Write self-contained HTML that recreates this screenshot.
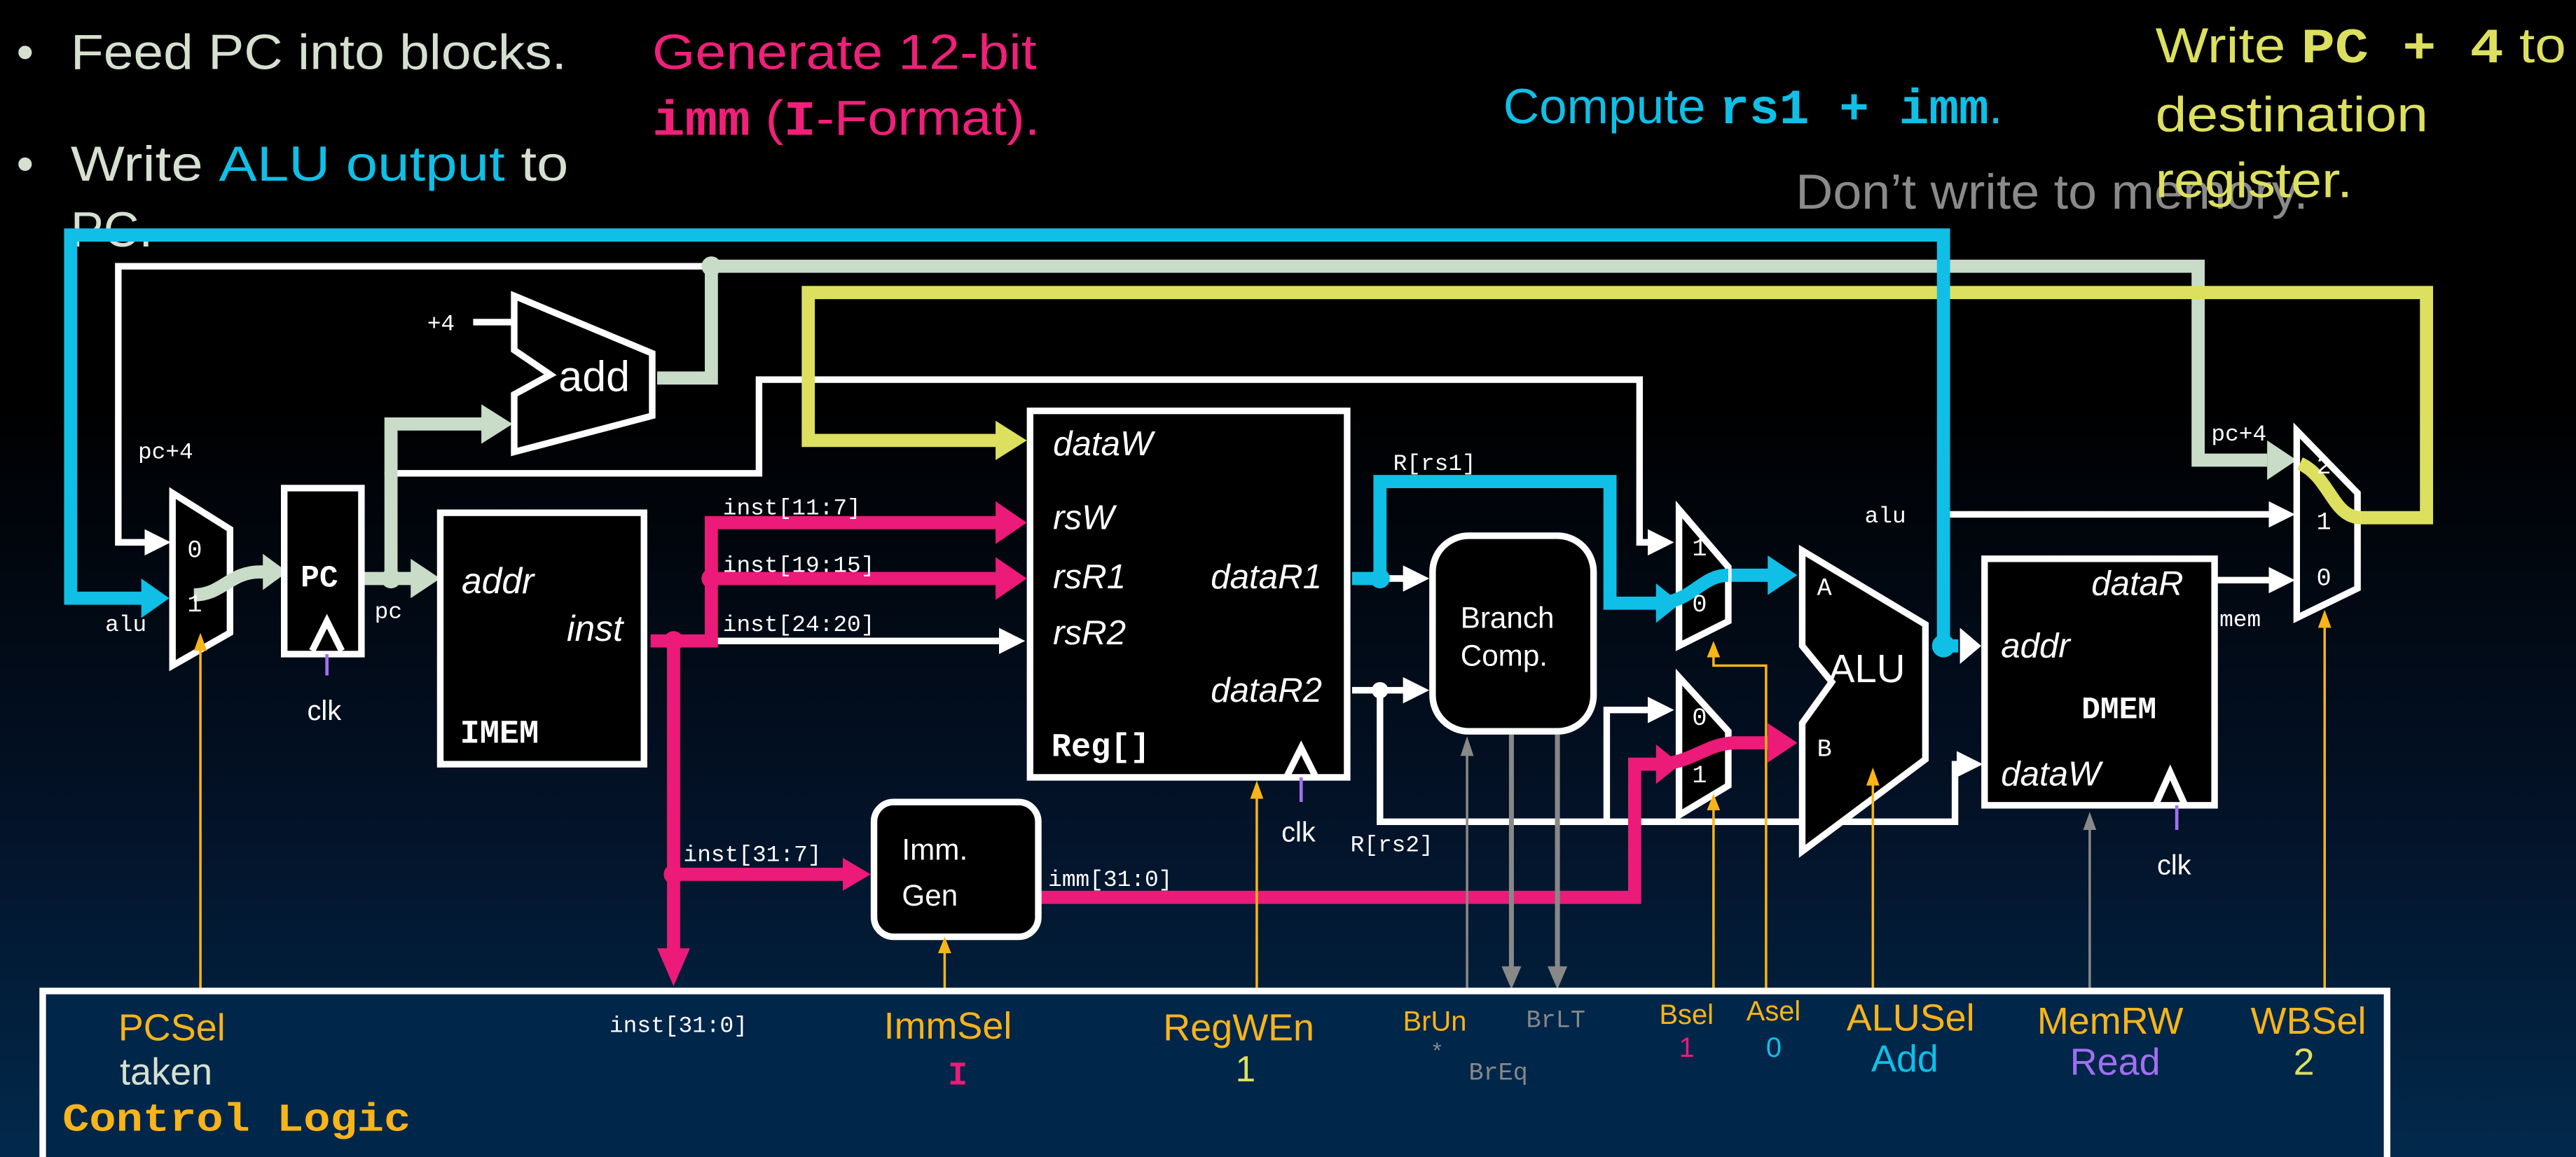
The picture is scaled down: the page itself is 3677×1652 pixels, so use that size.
<!DOCTYPE html>
<html><head><meta charset="utf-8"><style>
html,body{margin:0;padding:0;background:#000;}
svg{display:block}
.s{font-family:"Liberation Sans","DejaVu Sans",sans-serif}
.m{font-family:"Liberation Mono","DejaVu Sans Mono",monospace}
</style></head><body>
<svg width="3677" height="1652" viewBox="0 0 1568 704" preserveAspectRatio="none" xmlns="http://www.w3.org/2000/svg">
<defs>
<linearGradient id="bg" x1="0" y1="0" x2="0" y2="1">
<stop offset="0" stop-color="#000"/><stop offset="0.35" stop-color="#000"/>
<stop offset="0.7" stop-color="#031227"/><stop offset="1" stop-color="#02294c"/></linearGradient>
<marker id="aw" markerWidth="4" markerHeight="4" refX="3" refY="2" orient="auto" markerUnits="strokeWidth"><path d="M0,0L4,2L0,4z" fill="#fff"/></marker>
</defs>
<rect width="1568" height="704" fill="url(#bg)"/>

<!-- top text -->
<g class="s" font-size="30">
<text x="10" y="42" fill="#d6e0d0">•</text><text x="43" y="42" fill="#d6e0d0" textLength="302" lengthAdjust="spacingAndGlyphs">Feed PC into blocks.</text>
<text x="10" y="110" fill="#d6e0d0">•</text><text x="43" y="110" fill="#d6e0d0" textLength="303" lengthAdjust="spacingAndGlyphs">Write <tspan fill="#10bfe6">ALU output</tspan> to</text>
<text x="43" y="150" fill="#d6e0d0">PC.</text>
<text x="397" y="42" fill="#f0207a" textLength="234" lengthAdjust="spacingAndGlyphs">Generate 12-bit</text>
<text x="397" y="82" fill="#f0207a" textLength="236" lengthAdjust="spacingAndGlyphs"><tspan class="m" font-weight="bold">imm</tspan> (<tspan class="m" font-weight="bold">I</tspan>-Format).</text>
<text x="915" y="75" fill="#10bfe6" textLength="304" lengthAdjust="spacingAndGlyphs">Compute <tspan class="m" font-weight="bold">rs1 + imm</tspan>.</text>
<text x="1093" y="127" fill="#8a8a8a" textLength="312" lengthAdjust="spacingAndGlyphs">Don’t write to memory.</text>
<text x="1312" y="38" fill="#dde05e" textLength="250" lengthAdjust="spacingAndGlyphs">Write <tspan class="m" font-weight="bold">PC + 4</tspan> to</text>
<text x="1312" y="80" fill="#dde05e" textLength="166" lengthAdjust="spacingAndGlyphs">destination</text>
<text x="1312" y="120" fill="#dde05e" textLength="120" lengthAdjust="spacingAndGlyphs">register.</text>
</g>

<!-- thin white wires -->
<g stroke="#fff" stroke-width="4" fill="none">
<path d="M433,162H72V330H100" marker-end="url(#aw)"/>
<path d="M238,288H462V231H998V330H1015" marker-end="url(#aw)"/>
<path d="M288,196H313"/>
<path d="M433,390H620" marker-end="url(#aw)"/>
<path d="M823,420H866" marker-end="url(#aw)"/>
<path d="M840,420V500H1190V465H1203" marker-end="url(#aw)"/>
<path d="M978,500V432H1015" marker-end="url(#aw)"/>
<path d="M1183,313H1393" marker-end="url(#aw)"/>
<path d="M1348,353H1393" marker-end="url(#aw)"/>
<path d="M823,352H866" marker-end="url(#aw)"/>
</g>
<circle cx="840" cy="420" r="5" fill="#fff"/>

<!-- light green thick -->
<g stroke="#c8dcc8" stroke-width="8" fill="none">
<path d="M400,230H433V162H1338V280H1380"/>
<path d="M238,352V258H295"/>
<path d="M220,352H252"/>
</g>
<g fill="#c8dcc8">
<path d="M293,246L312,258L293,270z"/><path d="M250,340L268,352L250,364z"/>
<path d="M160,337L175,348L160,359z"/><path d="M1380,268L1398,280L1380,292z"/>
<circle cx="433" cy="162" r="6"/><circle cx="238" cy="352" r="6"/><circle cx="238" cy="288" r="4"/>
</g>

<!-- yellow -->
<g stroke="#dde05e" stroke-width="8" fill="none">
<path d="M1433,315H1477V178H492V268H607"/>
</g>
<path d="M606,256L625,268L606,280z" fill="#dde05e"/>

<!-- cyan -->
<g stroke="#10bfe6" stroke-width="8" fill="none">
<path d="M1183,393V143H43V364H88"/>
<path d="M840,352V293H980V367H1010"/>
<path d="M1050,350H1078"/>
<path d="M823,352H840"/>
<path d="M1183,393H1192"/>
</g>
<g fill="#10bfe6">
<path d="M86,352L103,364L86,376z"/><path d="M1008,355L1023,367L1008,379z"/>
<path d="M1076,338L1094,350L1076,362z"/>
<circle cx="840" cy="352" r="6"/><circle cx="1183" cy="393" r="7"/>
</g>
<path d="M1193,382L1206,393L1193,404z" fill="#fff"/>

<!-- magenta -->
<g stroke="#ec1a78" stroke-width="8" fill="none">
<path d="M396,390H433V318H607"/>
<path d="M433,352H607"/>
<path d="M410,390V580"/>
<path d="M410,532H515"/>
<path d="M632,546H995V465H1010"/>
<path d="M1055,452H1078"/>
</g>
<g fill="#ec1a78">
<path d="M606,305L625,318L606,331z"/><path d="M606,339L625,352L606,365z"/>
<path d="M513,522L530,532L513,542z"/><path d="M400,577L410,600L420,577z"/>
<path d="M1076,440L1094,452L1076,464z"/><path d="M1008,453L1023,465L1008,477z"/>
<circle cx="433" cy="352" r="6"/><circle cx="410" cy="390" r="6"/><circle cx="410" cy="532" r="6"/>
</g>

<!-- blocks -->
<g stroke="#fff" stroke-width="4" fill="none">
<path d="M105,300L140,322V385L105,405Z" fill="#000"/>
<rect x="173" y="297" width="47" height="101" fill="#000"/>
<path d="M190,396L199,378L208,396"/>
<path d="M313,180L397,215V253L313,275V240L335,228L313,213Z" fill="#000"/>
<rect x="268" y="312" width="124" height="153" fill="#000"/>
<rect x="627" y="250" width="193" height="223" fill="#000"/>
<path d="M783,473L792,455L801,473"/>
<rect x="872" y="326" width="98" height="119" rx="22" fill="#000"/>
<rect x="532" y="488" width="100" height="82" rx="12" fill="#000"/>
<path d="M1022,310L1052,345V378L1022,393Z" fill="#000"/>
<path d="M1022,412L1052,445V478L1022,496Z" fill="#000"/>
<path d="M1097,335L1172,380V462L1097,518V440L1115,415L1097,393Z" fill="#000"/>
<rect x="1208" y="340" width="140" height="150" fill="#000"/>
<path d="M1312,490L1321,470L1330,490"/>
<path d="M1398,262L1435,300V358L1398,376Z" fill="none"/>
</g>

<!-- paths through muxes (on top) -->
<path d="M118,362C135,362 140,348 158,348H165" stroke="#c8dcc8" stroke-width="8" fill="none"/>
<path d="M1008,367C1030,367 1035,350 1052,350" stroke="#10bfe6" stroke-width="8" fill="none"/>
<path d="M1008,465C1030,465 1038,452 1057,452" stroke="#ec1a78" stroke-width="8" fill="none"/>
<path d="M1400,282C1418,290 1420,315 1437,315" stroke="#dde05e" stroke-width="8" fill="none"/>

<!-- block labels -->
<g fill="#fff">
<text class="m" font-size="14" x="260" y="201">+4</text>
<text class="s" font-size="26" x="340" y="238">add</text>
<text class="m" font-size="14" x="84" y="279">pc+4</text>
<text class="m" font-size="15" x="114" y="339">0</text>
<text class="m" font-size="15" x="114" y="372">1</text>
<text class="m" font-size="14" x="64" y="384">alu</text>
<text class="m" font-size="19" font-weight="bold" x="183" y="357">PC</text>
<text class="m" font-size="14" x="228" y="376">pc</text>
<text class="s" font-size="17" x="187" y="438">clk</text>
<text class="s" font-size="22" font-style="italic" x="281" y="361">addr</text>
<text class="s" font-size="22" font-style="italic" x="345" y="390">inst</text>
<text class="m" font-size="20" font-weight="bold" x="280" y="452">IMEM</text>
<text class="m" font-size="14" x="440" y="313">inst[11:7]</text>
<text class="m" font-size="14" x="440" y="348">inst[19:15]</text>
<text class="m" font-size="14" x="440" y="384">inst[24:20]</text>
<text class="m" font-size="14" x="416" y="524">inst[31:7]</text>
<text class="s" font-size="21" font-style="italic" x="641" y="277">dataW</text>
<text class="s" font-size="21" font-style="italic" x="641" y="322">rsW</text>
<text class="s" font-size="21" font-style="italic" x="641" y="358">rsR1</text>
<text class="s" font-size="21" font-style="italic" x="641" y="392">rsR2</text>
<text class="s" font-size="21" font-style="italic" x="737" y="358">dataR1</text>
<text class="s" font-size="21" font-style="italic" x="737" y="427">dataR2</text>
<text class="m" font-size="20" font-weight="bold" x="640" y="460">Reg[]</text>
<text class="s" font-size="17" x="780" y="512">clk</text>
<text class="m" font-size="14" x="848" y="286">R[rs1]</text>
<text class="m" font-size="14" x="822" y="518">R[rs2]</text>
<text class="s" font-size="18" x="889" y="382">Branch</text>
<text class="s" font-size="18" x="889" y="405">Comp.</text>
<text class="s" font-size="18" x="549" y="523">Imm.</text>
<text class="s" font-size="18" x="549" y="551">Gen</text>
<text class="m" font-size="14" x="638" y="539">imm[31:0]</text>
<text class="m" font-size="15" x="1030" y="338">1</text>
<text class="m" font-size="15" x="1030" y="372">0</text>
<text class="m" font-size="15" x="1030" y="441">0</text>
<text class="m" font-size="15" x="1030" y="476">1</text>
<text class="m" font-size="15" x="1106" y="362">A</text>
<text class="m" font-size="15" x="1106" y="460">B</text>
<text class="s" font-size="24" x="1113" y="415">ALU</text>
<text class="m" font-size="14" x="1135" y="318">alu</text>
<text class="s" font-size="21" font-style="italic" x="1273" y="362">dataR</text>
<text class="s" font-size="21" font-style="italic" x="1218" y="400">addr</text>
<text class="m" font-size="19" font-weight="bold" x="1267" y="437">DMEM</text>
<text class="s" font-size="21" font-style="italic" x="1218" y="478">dataW</text>
<text class="s" font-size="17" x="1313" y="532">clk</text>
<text class="m" font-size="14" x="1346" y="268">pc+4</text>
<text class="m" font-size="15" x="1410" y="288">2</text>
<text class="m" font-size="15" x="1410" y="322">1</text>
<text class="m" font-size="15" x="1410" y="356">0</text>
<text class="m" font-size="14" x="1351" y="381">mem</text>
</g>

<!-- control lines -->
<g stroke="#f8b418" stroke-width="1.5" fill="none">
<path d="M122,602V392"/><path d="M575,602V575"/><path d="M765,602V480"/>
<path d="M1043,602V488"/><path d="M1075,602V405H1043V395"/><path d="M1140,602V472"/><path d="M1415,602V375"/>
</g>
<g fill="#f8b418">
<path d="M118,396L122,385L126,396z"/><path d="M571,580L575,570L579,580z"/><path d="M761,486L765,475L769,486z"/>
<path d="M1039,493L1043,483L1047,493z"/><path d="M1039,400L1043,390L1047,400z"/><path d="M1136,478L1140,467L1144,478z"/><path d="M1411,382L1415,371L1419,382z"/>
</g>
<g stroke="#888" fill="none">
<path d="M893,602V455" stroke-width="1.5"/><path d="M1272,602V500" stroke-width="1.5"/>
<path d="M920,447V590" stroke-width="3"/><path d="M948,447V590" stroke-width="3"/>
</g>
<g fill="#888">
<path d="M889,460L893,448L897,460z"/><path d="M1268,505L1272,494L1276,505z"/>
<path d="M914,588L920,602L926,588z"/><path d="M942,588L948,602L954,588z"/>
</g>
<g stroke="#a070f0" stroke-width="2">
<path d="M199,398V411"/><path d="M792,473V488"/><path d="M1325,490V505"/>
</g>

<!-- control logic -->
<rect x="26" y="603" width="1427" height="110" fill="#00264a" stroke="#fff" stroke-width="4"/>
<g class="s">
<text x="72" y="633" font-size="23" fill="#f8b418">PCSel</text>
<text x="73" y="660" font-size="23" fill="#d6e0d0">taken</text>
<text class="m" x="38" y="688" font-size="24" font-weight="bold" fill="#f8b418" textLength="212" lengthAdjust="spacingAndGlyphs">Control Logic</text>
<text class="m" x="371" y="628" font-size="14" fill="#fff">inst[31:0]</text>
<text x="538" y="632" font-size="23" fill="#f8b418">ImmSel</text>
<text class="m" x="577" y="660" font-size="20" font-weight="bold" fill="#ec1a78">I</text>
<text x="708" y="633" font-size="23" fill="#f8b418">RegWEn</text>
<text x="752" y="658" font-size="22" fill="#dde05e">1</text>
<text x="854" y="627" font-size="17" fill="#f8b418">BrUn</text>
<text x="872" y="644" font-size="14" fill="#888">*</text>
<text class="m" x="929" y="625" font-size="15" fill="#888">BrLT</text>
<text class="m" x="894" y="657" font-size="15" fill="#888">BrEq</text>
<text x="1010" y="623" font-size="17" fill="#f8b418">Bsel</text>
<text x="1022" y="643" font-size="17" fill="#ec1a78">1</text>
<text x="1063" y="621" font-size="17" fill="#f8b418">Asel</text>
<text x="1075" y="643" font-size="17" fill="#10bfe6">0</text>
<text x="1124" y="627" font-size="23" fill="#f8b418">ALUSel</text>
<text x="1139" y="652" font-size="23" fill="#10bfe6">Add</text>
<text x="1240" y="629" font-size="23" fill="#f8b418">MemRW</text>
<text x="1260" y="654" font-size="23" fill="#a070f0">Read</text>
<text x="1370" y="629" font-size="23" fill="#f8b418">WBSel</text>
<text x="1396" y="654" font-size="23" fill="#dde05e">2</text>
</g>
</svg>
</body></html>
